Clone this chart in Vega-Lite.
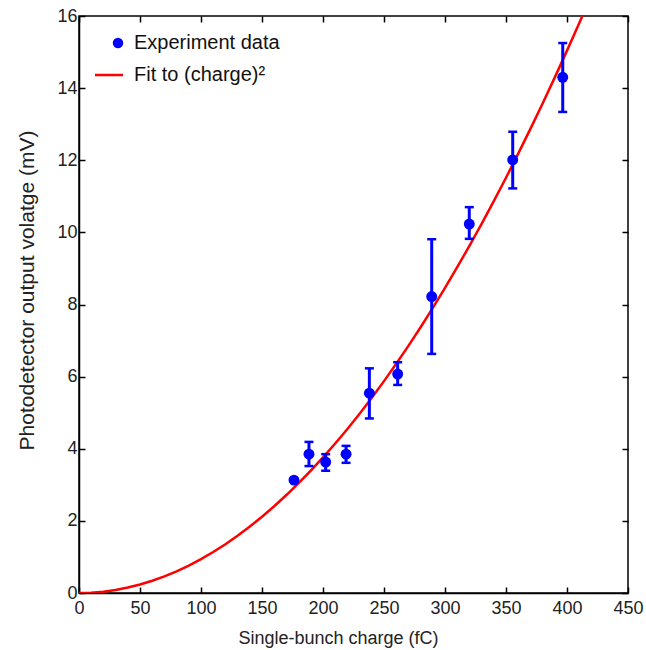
{
  "$schema": "https://vega.github.io/schema/vega-lite/v6.json",
  "width": 549,
  "height": 577,
  "autosize": "none",
  "padding": {"left": 79, "top": 16, "right": 18, "bottom": 57},
  "background": "white",
  "config": {
    "view": {"stroke": "black", "strokeWidth": 1.5},
    "font": "Liberation Sans",
    "axis": {
      "domainColor": "black",
      "domainWidth": 1.5,
      "tickColor": "black",
      "tickWidth": 1.5,
      "tickSize": -6,
      "grid": false,
      "labelFont": "Liberation Sans",
      "labelFontSize": 18,
      "labelColor": "#222222",
      "labelFlush": false,
      "labelOverlap": false,
      "titleFont": "Liberation Sans",
      "titleFontSize": 18,
      "titleFontWeight": "normal",
      "titleColor": "#222222"
    }
  },
  "datasets": {
    "experiment": [
      {"charge": 176.2, "voltage": 3.13, "low": 3.1, "high": 3.16},
      {"charge": 188.5, "voltage": 3.85, "low": 3.52, "high": 4.19},
      {"charge": 202.2, "voltage": 3.63, "low": 3.39, "high": 3.85},
      {"charge": 218.9, "voltage": 3.85, "low": 3.61, "high": 4.08},
      {"charge": 238.0, "voltage": 5.54, "low": 4.84, "high": 6.23},
      {"charge": 261.2, "voltage": 6.07, "low": 5.77, "high": 6.4},
      {"charge": 289.1, "voltage": 8.22, "low": 6.63, "high": 9.81},
      {"charge": 319.9, "voltage": 10.23, "low": 9.82, "high": 10.7},
      {"charge": 355.5, "voltage": 12.01, "low": 11.22, "high": 12.79},
      {"charge": 396.5, "voltage": 14.3, "low": 13.34, "high": 15.25}
    ],
    "fit": [
      {"charge": 0, "voltage": 0},
      {"charge": 10, "voltage": 0.0094},
      {"charge": 20, "voltage": 0.0376},
      {"charge": 30, "voltage": 0.0846},
      {"charge": 40, "voltage": 0.1504},
      {"charge": 50, "voltage": 0.235},
      {"charge": 60, "voltage": 0.3384},
      {"charge": 70, "voltage": 0.4606},
      {"charge": 80, "voltage": 0.6016},
      {"charge": 90, "voltage": 0.7614},
      {"charge": 100, "voltage": 0.94},
      {"charge": 110, "voltage": 1.1374},
      {"charge": 120, "voltage": 1.3536},
      {"charge": 130, "voltage": 1.5886},
      {"charge": 140, "voltage": 1.8424},
      {"charge": 150, "voltage": 2.115},
      {"charge": 160, "voltage": 2.4064},
      {"charge": 170, "voltage": 2.7166},
      {"charge": 180, "voltage": 3.0456},
      {"charge": 190, "voltage": 3.3934},
      {"charge": 200, "voltage": 3.76},
      {"charge": 210, "voltage": 4.1454},
      {"charge": 220, "voltage": 4.5496},
      {"charge": 230, "voltage": 4.9726},
      {"charge": 240, "voltage": 5.4144},
      {"charge": 250, "voltage": 5.875},
      {"charge": 260, "voltage": 6.3544},
      {"charge": 270, "voltage": 6.8526},
      {"charge": 280, "voltage": 7.3696},
      {"charge": 290, "voltage": 7.9054},
      {"charge": 300, "voltage": 8.46},
      {"charge": 310, "voltage": 9.0334},
      {"charge": 320, "voltage": 9.6256},
      {"charge": 330, "voltage": 10.2366},
      {"charge": 340, "voltage": 10.8664},
      {"charge": 350, "voltage": 11.515},
      {"charge": 360, "voltage": 12.1824},
      {"charge": 370, "voltage": 12.8686},
      {"charge": 380, "voltage": 13.5736},
      {"charge": 390, "voltage": 14.2974},
      {"charge": 400, "voltage": 15.04},
      {"charge": 410, "voltage": 15.8014},
      {"charge": 412.6, "voltage": 16.0}
    ]
  },
  "layer": [
    {
      "layer": [
        {
          "data": {"name": "fit"},
          "mark": {"type": "line", "strokeWidth": 2.5, "clip": true},
          "encoding": {
            "x": {
              "field": "charge",
              "type": "quantitative",
              "scale": {"domain": [0, 450], "nice": false},
              "axis": {
                "title": "Single-bunch charge (fC)",
                "values": [0, 50, 100, 150, 200, 250, 300, 350, 400, 450],
                "labelPadding": 12,
                "titleX": 259,
                "titleY": 36
              }
            },
            "y": {
              "field": "voltage",
              "type": "quantitative",
              "scale": {"domain": [0, 16], "nice": false},
              "axis": {
                "title": "Photodetector output volatge (mV)",
                "values": [0, 2, 4, 6, 8, 10, 12, 14, 16],
                "labelPadding": 8,
                "titleFontSize": 21,
                "titleX": -42,
                "titleY": 274
              }
            },
            "color": {
              "datum": "Fit to (charge)²",
              "type": "nominal",
              "scale": {"domain": ["Experiment data", "Fit to (charge)²"], "range": ["#0000ff", "#ff0000"]},
              "legend": {
                "title": null,
                "orient": "none",
                "legendX": 14,
                "legendY": 17,
                "padding": 0,
                "labelFont": "Liberation Sans",
                "labelFontSize": 20,
                "labelColor": "#111111",
                "labelOffset": 21,
                "symbolSize": 784,
                "rowPadding": 12,
                "encode": {
                  "symbols": {
                    "update": {
                      "shape": {"signal": "datum.value === 'Experiment data' ? 'circle' : 'stroke'"},
                      "size": {"signal": "datum.value === 'Experiment data' ? 110 : 784"},
                      "x": {"signal": "datum.value === 'Experiment data' ? 25 : 16"},
                      "fill": {"signal": "datum.value === 'Experiment data' ? '#0000ff' : 'transparent'"},
                      "stroke": {"signal": "datum.value === 'Experiment data' ? '#0000ff' : '#ff0000'"},
                      "strokeWidth": {"signal": "datum.value === 'Experiment data' ? 0 : 2.5"},
                      "opacity": {"value": 1}
                    }
                  }
                }
              }
            }
          }
        },
        {
          "data": {"name": "experiment"},
          "mark": {"type": "rule", "color": "#0000ff", "strokeWidth": 3},
          "encoding": {
            "x": {"field": "charge", "type": "quantitative"},
            "y": {"field": "low", "type": "quantitative"},
            "y2": {"field": "high"}
          }
        },
        {
          "data": {"name": "experiment"},
          "mark": {"type": "tick", "orient": "horizontal", "color": "#0000ff", "size": 9, "thickness": 2.5, "opacity": 1},
          "encoding": {
            "x": {"field": "charge", "type": "quantitative"},
            "y": {"field": "low", "type": "quantitative"}
          }
        },
        {
          "data": {"name": "experiment"},
          "mark": {"type": "tick", "orient": "horizontal", "color": "#0000ff", "size": 9, "thickness": 2.5, "opacity": 1},
          "encoding": {
            "x": {"field": "charge", "type": "quantitative"},
            "y": {"field": "high", "type": "quantitative"}
          }
        },
        {
          "data": {"name": "experiment"},
          "mark": {"type": "circle", "size": 120, "opacity": 1},
          "encoding": {
            "x": {"field": "charge", "type": "quantitative"},
            "y": {"field": "voltage", "type": "quantitative"},
            "color": {"datum": "Experiment data", "type": "nominal"}
          }
        }
      ]
    },
    {
      "data": {"name": "experiment"},
      "mark": {"type": "point", "opacity": 0},
      "encoding": {
        "x": {
          "field": "charge",
          "type": "quantitative",
          "axis": {"orient": "top", "labels": false, "title": null, "domain": false, "values": [0, 50, 100, 150, 200, 250, 300, 350, 400, 450]}
        },
        "y": {
          "field": "voltage",
          "type": "quantitative",
          "axis": {"orient": "right", "labels": false, "title": null, "domain": false, "values": [0, 2, 4, 6, 8, 10, 12, 14, 16]}
        }
      }
    }
  ],
  "resolve": {"axis": {"x": "independent", "y": "independent"}}
}
